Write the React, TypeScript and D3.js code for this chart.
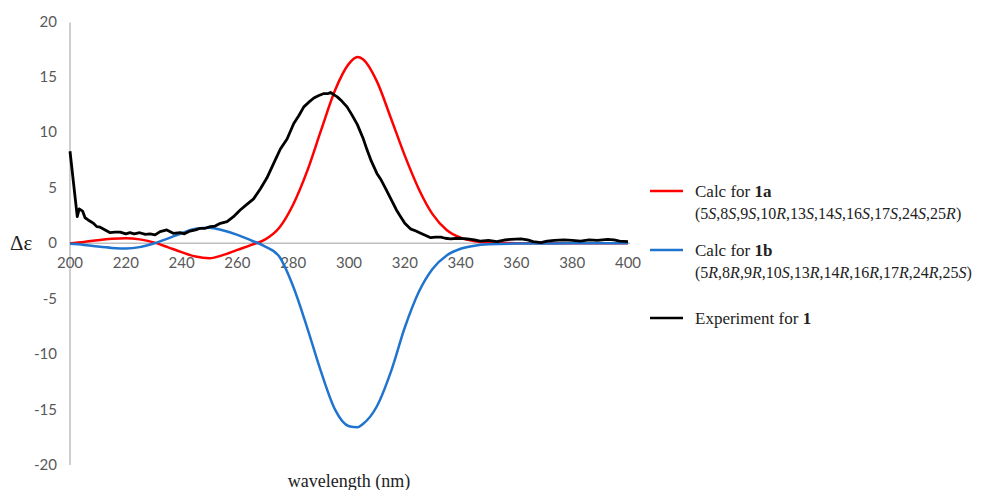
import React, { useEffect, useRef } from 'react';
import * as d3 from 'd3';

// calculated ECD curves, sampled in nm
const calcWavelengths = [200, 205, 210, 215, 220, 225, 230, 235, 240, 245, 250, 255, 260, 265, 270, 275, 280, 285, 290, 295, 300, 303, 305, 310, 315, 320, 325, 330, 335, 340, 345, 350, 360, 380, 400];
const calc1a = [0, 0.12, 0.28, 0.4, 0.45, 0.35, 0.08, -0.35, -0.8, -1.2, -1.35, -1.05, -0.6, -0.15, 0.35, 1.4, 3.5, 6.5, 10.2, 13.8, 16.2, 16.8, 16.6, 14.6, 11.3, 7.9, 4.9, 2.6, 1.2, 0.5, 0.18, 0.06, 0.01, 0, 0];
const calc1b = [-0.05, -0.15, -0.3, -0.42, -0.48, -0.35, -0.02, 0.42, 0.9, 1.3, 1.4, 1.15, 0.75, 0.25, -0.3, -1.2, -3.9, -7.6, -11.6, -15.0, -16.5, -16.6, -16.3, -14.7, -11.6, -7.6, -4.4, -2.3, -1.1, -0.5, -0.22, -0.1, -0.03, -0.01, 0];

// measured spectrum
const expWavelengths = [200, 202.6, 203.3, 204.5, 205.4, 206.5, 207.8, 208.4, 209.6, 210.8, 212.6, 214.4, 216, 218, 220, 221.5, 223, 225, 227, 228.7, 230.5, 232.3, 234.7, 237, 239.5, 241, 243, 245, 246.7, 248.5, 250.3, 252, 253.9, 256.3, 258.6, 261, 263.4, 265.8, 268.2, 270.6, 273, 275.4, 277.8, 280.2, 282, 283.8, 285.5, 287.4, 289, 291, 292.5, 293.4, 294.5, 295.8, 297.5, 299.3, 301, 303, 305, 306.5, 308, 310, 311.3, 313, 315, 317, 318.5, 320, 322, 324, 325.7, 327.5, 329.3, 331, 332.9, 334.5, 336.4, 339, 342.4, 345, 347, 350, 353, 356, 358, 361.6, 364, 366, 368.8, 371, 373.6, 377, 380, 383, 386, 389, 392.7, 395, 397, 400];
const expValues = [8.3, 2.4, 3.1, 2.9, 2.3, 2.1, 1.9, 1.8, 1.5, 1.45, 1.2, 0.95, 1.0, 1.0, 0.85, 0.95, 0.85, 0.95, 0.8, 0.85, 0.75, 1.05, 1.2, 0.9, 0.95, 0.85, 1.1, 1.2, 1.35, 1.35, 1.5, 1.55, 1.8, 1.95, 2.4, 3.0, 3.5, 4.0, 4.9, 5.9, 7.2, 8.5, 9.4, 10.8, 11.5, 12.3, 12.7, 13.1, 13.3, 13.5, 13.5, 13.6, 13.4, 13.2, 12.8, 12.3, 11.6, 10.7, 9.5, 8.4, 7.4, 6.3, 5.8, 5.0, 4.0, 3.0, 2.4, 1.8, 1.3, 1.1, 0.9, 0.7, 0.5, 0.55, 0.55, 0.45, 0.4, 0.45, 0.4, 0.3, 0.2, 0.25, 0.15, 0.3, 0.35, 0.4, 0.3, 0.15, 0.05, 0.2, 0.25, 0.3, 0.25, 0.2, 0.3, 0.25, 0.35, 0.3, 0.2, 0.15];

const xTicks = [200, 220, 240, 260, 280, 300, 320, 340, 360, 380, 400];
const yTicks = [-20, -15, -10, -5, 0, 5, 10, 15, 20];

const legendRows = [
  { name: 'Calc for ', bold: '1a', config: '(5S,8S,9S,10R,13S,14S,16S,17S,24S,25R)', color: '#ff0000' },
  { name: 'Calc for ', bold: '1b', config: '(5R,8R,9R,10S,13R,14R,16R,17R,24R,25S)', color: '#1f74cf' },
  { name: 'Experiment for ', bold: '1', config: null, color: '#000000' },
];

const App = () => {
  const ref = useRef();

  useEffect(() => {
    const width = 987;
    const height = 490;
    const svg = d3.select(ref.current).attr('width', width).attr('height', height);
    svg.selectAll('*').remove();

    const x = d3.scaleLinear().domain([200, 400]).range([70, 628]);
    const y = d3.scaleLinear().domain([-20, 20]).range([465, 21.5]);

    const tickFont = 'Lato, "Open Sans", sans-serif';
    const serif = '"Liberation Serif", "DejaVu Serif", serif';

    // y axis line + labels
    svg.append('line')
      .attr('x1', x(200)).attr('x2', x(200))
      .attr('y1', y(20) + 1).attr('y2', y(-20))
      .attr('stroke', '#bfbfbf').attr('stroke-width', 1.5);

    svg.selectAll('.ytick')
      .data(yTicks)
      .enter()
      .append('text')
      .attr('x', 57)
      .attr('y', (d) => y(d) + 5)
      .attr('text-anchor', 'end')
      .attr('font-family', tickFont)
      .attr('font-size', 15)
      .attr('fill', '#595959')
      .text((d) => d);

    // zero line
    svg.append('line')
      .attr('x1', x(200)).attr('x2', x(400) + 2)
      .attr('y1', y(0)).attr('y2', y(0))
      .attr('stroke', '#bfbfbf').attr('stroke-width', 1.5);

    svg.selectAll('.xtick')
      .data(xTicks)
      .enter()
      .append('text')
      .attr('x', (d) => x(d))
      .attr('y', y(0) + 25)
      .attr('text-anchor', 'middle')
      .attr('font-family', tickFont)
      .attr('font-size', 15)
      .attr('fill', '#595959')
      .text((d) => d);

    svg.append('text')
      .attr('x', 10).attr('y', y(0) + 7)
      .attr('font-family', serif).attr('font-size', 21)
      .attr('fill', '#222')
      .text('Δε');

    svg.append('text')
      .attr('x', 349).attr('y', 487)
      .attr('text-anchor', 'middle')
      .attr('font-family', serif).attr('font-size', 18)
      .attr('fill', '#222')
      .text('wavelength (nm)');

    const line = d3.line().x((d) => x(d[0])).y((d) => y(d[1]));

    const series = [
      { pts: calcWavelengths.map((w, i) => [w, calc1a[i]]), color: '#ff0000', curve: d3.curveMonotoneX, w: 2.5 },
      { pts: calcWavelengths.map((w, i) => [w, calc1b[i]]), color: '#1f74cf', curve: d3.curveMonotoneX, w: 2.5 },
      { pts: expWavelengths.map((w, i) => [w, expValues[i]]), color: '#000000', curve: d3.curveLinear, w: 2.8 },
    ];

    series.forEach((s) => {
      svg.append('path')
        .attr('d', line.curve(s.curve)(s.pts))
        .attr('fill', 'none')
        .attr('stroke', s.color)
        .attr('stroke-width', s.w)
        .attr('stroke-linejoin', 'round');
    });

    // legend
    const rowY = [191, 250, 318];
    legendRows.forEach((r, i) => {
      const ly = rowY[i];
      svg.append('line')
        .attr('x1', 650).attr('x2', 683)
        .attr('y1', ly).attr('y2', ly)
        .attr('stroke', r.color).attr('stroke-width', 2.5);

      const t = svg.append('text')
        .attr('x', 695).attr('y', ly + 6)
        .attr('font-family', serif).attr('font-size', 17)
        .attr('fill', '#222');
      t.append('tspan').text(r.name);
      t.append('tspan').attr('font-weight', 'bold').text(r.bold);

      if (r.config) {
        const c = svg.append('text')
          .attr('x', 695).attr('y', ly + 28)
          .attr('font-family', serif).attr('font-size', 16)
          .attr('fill', '#222');
        // letters italic, numbers upright
        r.config.split(/([RS])/).forEach((part) => {
          if (!part) return;
          const sp = c.append('tspan').text(part);
          if (part === 'R' || part === 'S') sp.attr('font-style', 'italic');
        });
      }
    });
  }, []);

  return (
    <div>
      <svg ref={ref} style={{ position: 'absolute', left: 0, top: 0 }} />
    </div>
  );
};

export default App;
